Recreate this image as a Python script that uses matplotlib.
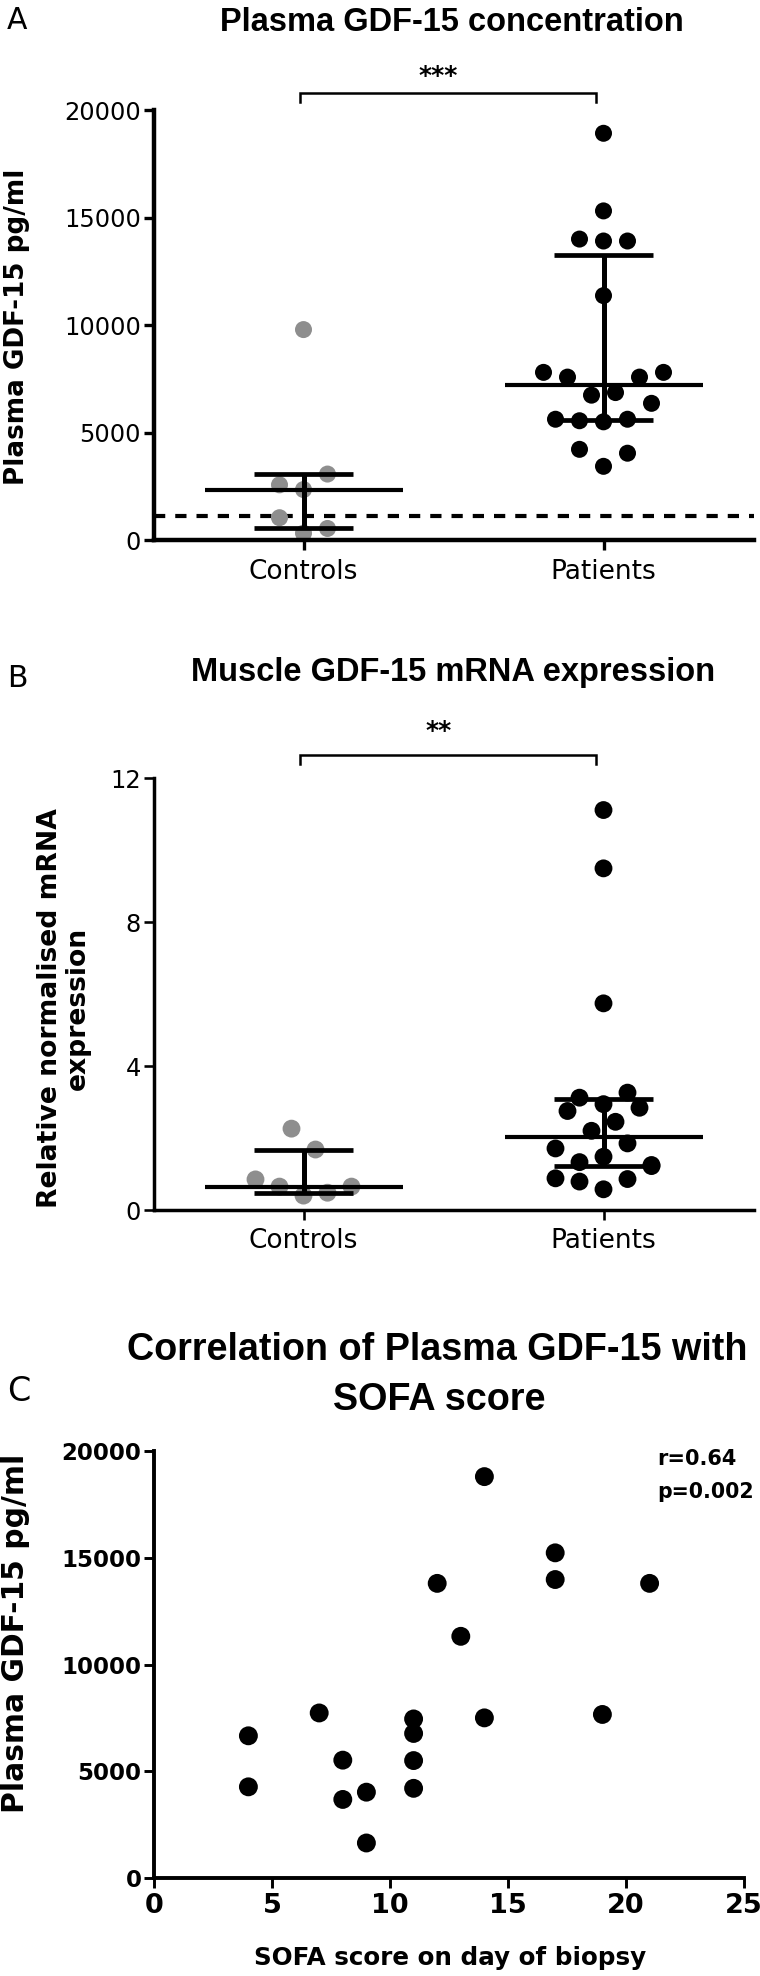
import numpy as np
import matplotlib
matplotlib.use("Agg")
import matplotlib.pyplot as plt

plt.rcParams['font.family'] = ['DejaVu Sans']

# ---------------- data ----------------
groups = ["Controls", "Patients"]

# Panel A: plasma GDF-15 (pg/ml)
plasma_controls = [340, 1060, 560, 2370, 2590, 3090, 9810]
plasma_patients = [3450, 4240, 4060, 5520, 5570, 5640, 5640, 6380,
                   6760, 6880, 7600, 7600, 7820, 7820, 11390,
                   13930, 14020, 13930, 15330, 18940]
plasma_threshold = 1140
plasma_yticks = [0, 5000, 10000, 15000, 20000]

# Panel B: muscle GDF-15 mRNA (relative normalised expression)
mrna_controls = [0.40, 0.65, 0.48, 0.85, 0.65, 2.26, 1.68]
mrna_patients = [0.575, 0.79, 0.86, 0.88, 1.48, 1.33, 1.85, 1.71, 1.22, 1.25,
                 2.20, 2.45, 2.75, 2.84, 2.94, 3.12, 3.26, 5.74, 9.49, 11.11]
mrna_yticks = [0, 4, 8, 12]

# Panel C: SOFA score vs plasma GDF-15
sofa = [4, 4, 7, 8, 8, 9, 9, 11, 11, 11, 11, 12, 13, 14, 14, 17, 17, 19, 21]
sofa_gdf15 = [6660, 4270, 7730, 5520, 3680, 4020, 1640, 7450, 6770, 5500,
              4200, 13800, 11320, 18800, 7500, 15230, 13980, 7660, 13800]
sofa_xticks = [0, 5, 10, 15, 20, 25]
corr_text = ["r=0.64", "p=0.002"]

titles = ["Plasma GDF-15 concentration",
          "Muscle GDF-15 mRNA expression",
          ["Correlation of Plasma GDF-15 with", "SOFA score"]]
sig_labels = ["***", "**"]

# ---------------- figure ----------------
W, H = 760, 1976
fig = plt.figure(figsize=(W / 100, H / 100), dpi=100)
renderer = fig.canvas.get_renderer()


def fx(x):
    return x / W


def fy(y):
    return 1 - y / H


def axes_px(left, top, right, bottom):
    return fig.add_axes([fx(left), fy(bottom), (right - left) / W, (bottom - top) / H])


def fit(txt, target_px, vertical=False):
    """Scale a text's font size so its extent matches the reference length."""
    for _ in range(3):
        bb = txt.get_window_extent(renderer=renderer)
        cur = bb.height if vertical else bb.width
        txt.set_fontsize(txt.get_fontsize() * target_px / cur)
    return txt


def swarm_offsets(values, row_height, step):
    v = np.asarray(values, dtype=float)
    order = np.argsort(v, kind="stable")
    off = np.zeros(len(v))
    i = 0
    while i < len(order):
        start = v[order[i]]
        j = i
        while j < len(order) and v[order[j]] - start < row_height:
            j += 1
        members = sorted(order[i:j])
        n = len(members)
        if n % 2:
            slots = [0] + [s for k in range(1, n // 2 + 1) for s in (-k, k)]
        else:
            slots = [s for k in range(n // 2) for s in (-(k + 0.5), k + 0.5)]
        for m, s in zip(members, slots):
            off[m] = s * step
        i = j
    return off


TITLE_FONT = ["Liberation Sans", "DejaVu Sans"]
GREY = "#8e8e8e"


def dot_panel(ax, ctrl, pat, ymax, yticks, spine_w, dot_s, ax_h_px, ax_w_px):
    ax.set_xlim(-0.5, 1.5)
    ax.set_ylim(0, ymax)
    row_h = 24 * ymax / ax_h_px
    step = 24 * 2.0 / ax_w_px
    for gi, (vals, col) in enumerate([(ctrl, GREY), (pat, "black")]):
        offs = swarm_offsets(vals, row_h, step)
        ax.scatter(gi + offs, vals, s=dot_s, color=col, edgecolors="none",
                   zorder=2, clip_on=False)
        q1, med, q3 = np.percentile(vals, [25, 50, 75], method="weibull")
        ax.plot([gi - 0.33, gi + 0.33], [med, med], color="black", lw=3.0,
                solid_capstyle="butt", zorder=3)
        for q in (q1, q3):
            ax.plot([gi - 0.165, gi + 0.165], [q, q], color="black", lw=3.4,
                    solid_capstyle="butt", zorder=3)
        ax.plot([gi, gi], [q1, q3], color="black", lw=3.6,
                solid_capstyle="butt", zorder=3)
    for s in ("top", "right"):
        ax.spines[s].set_visible(False)
    for s in ("left", "bottom"):
        ax.spines[s].set_linewidth(spine_w)
    ax.set_yticks(yticks)
    ax.set_yticklabels([str(t) for t in yticks], fontsize=17.4)
    ax.set_xticks([0, 1])
    ax.set_xticklabels(groups, fontsize=19)
    ax.tick_params(axis="y", direction="out", length=7, width=spine_w * 0.75, pad=2)
    ax.tick_params(axis="x", direction="out", length=7, width=spine_w * 0.75, pad=6)


def bracket(ax, y_top, y_bot, label, label_y):
    ax.plot([-0.012, -0.012, 0.975, 0.975], [y_bot, y_top, y_top, y_bot],
            color="black", lw=1.8, clip_on=False, solid_joinstyle="miter")
    ax.text(0.45, label_y, label, ha="center", va="baseline", fontsize=18,
            fontweight="bold", transform=ax.transData, clip_on=False)


# ---------- Panel A ----------
axA = axes_px(153.5, 110.5, 753.5, 540.5)
dot_panel(axA, plasma_controls, plasma_patients, 20000, plasma_yticks, 3.2, 150, 430, 600)
axA.axhline(plasma_threshold, color="black", lw=3.0, ls=(0, (2.7, 2.4)), zorder=1)
bracket(axA, 20814, 20395, sig_labels[0], 21300)
fig.text(fx(7), fy(29), "A", fontsize=21.5, ha="left", va="baseline")
fit(fig.text(fx(452), fy(31), titles[0], fontsize=24, fontweight="bold",
             family=TITLE_FONT, ha="center", va="baseline"), 463)
fit(fig.text(fx(17), fy(327), "Plasma GDF-15 pg/ml", rotation=90, fontsize=18,
             fontweight="bold", ha="center", va="center"), 315, vertical=True)

# ---------- Panel B ----------
axB = axes_px(153.5, 778, 753.5, 1210)
dot_panel(axB, mrna_controls, mrna_patients, 12, mrna_yticks, 2.5, 165, 432, 600)
bracket(axB, 12.64, 12.39, sig_labels[1], 13.12)
fig.text(fx(7), fy(687), "B", fontsize=21.5, ha="left", va="baseline")
fit(fig.text(fx(453), fy(681), titles[1], fontsize=24, fontweight="bold",
             family=TITLE_FONT, ha="center", va="baseline"), 525)
fit(fig.text(fx(64), fy(1008), "Relative normalised mRNA\nexpression", rotation=90,
             fontsize=19, fontweight="bold", ha="center", va="center",
             multialignment="center", linespacing=1.05), 400, vertical=True)

# ---------- Panel C ----------
axC = axes_px(154, 1451, 744, 1878)
axC.scatter(sofa, sofa_gdf15, s=185, color="black", edgecolors="none",
            zorder=2, clip_on=False)
axC.set_xlim(0, 25)
axC.set_ylim(0, 20000)
for s in ("top", "right"):
    axC.spines[s].set_visible(False)
for s in ("left", "bottom"):
    axC.spines[s].set_linewidth(2.8)
axC.set_xticks(sofa_xticks)
axC.set_xticklabels([str(t) for t in sofa_xticks], fontsize=19.5, fontweight="bold")
axC.set_yticks(plasma_yticks)
axC.set_yticklabels([str(t) for t in plasma_yticks], fontsize=16.5, fontweight="bold")
axC.tick_params(axis="both", direction="out", length=7, width=2.1)
axC.tick_params(axis="y", pad=2)
axC.tick_params(axis="x", pad=4)
fig.text(fx(7), fy(1401), "C", fontsize=24, ha="left", va="baseline")
tC = fit(fig.text(fx(437), fy(1360), titles[2][0], fontsize=27, fontweight="bold",
                  family=TITLE_FONT, ha="center", va="baseline"), 621)
fig.text(fx(439), fy(1410), titles[2][1], fontsize=tC.get_fontsize(), fontweight="bold",
         family=TITLE_FONT, ha="center", va="baseline")
fit(fig.text(fx(16), fy(1633), "Plasma GDF-15 pg/ml", rotation=90, fontsize=21,
             fontweight="bold", ha="center", va="center"), 359, vertical=True)
fit(fig.text(fx(450), fy(1958), "SOFA score on day of biopsy", fontsize=17.5,
             fontweight="bold", ha="center", va="center"), 391)
fig.text(fx(657), fy(1465), corr_text[0], fontsize=15, fontweight="bold",
         ha="left", va="baseline")
fit(fig.text(fx(657), fy(1498), corr_text[1], fontsize=15, fontweight="bold",
             ha="left", va="baseline"), 97)

fig.savefig("out.png", dpi=100)
